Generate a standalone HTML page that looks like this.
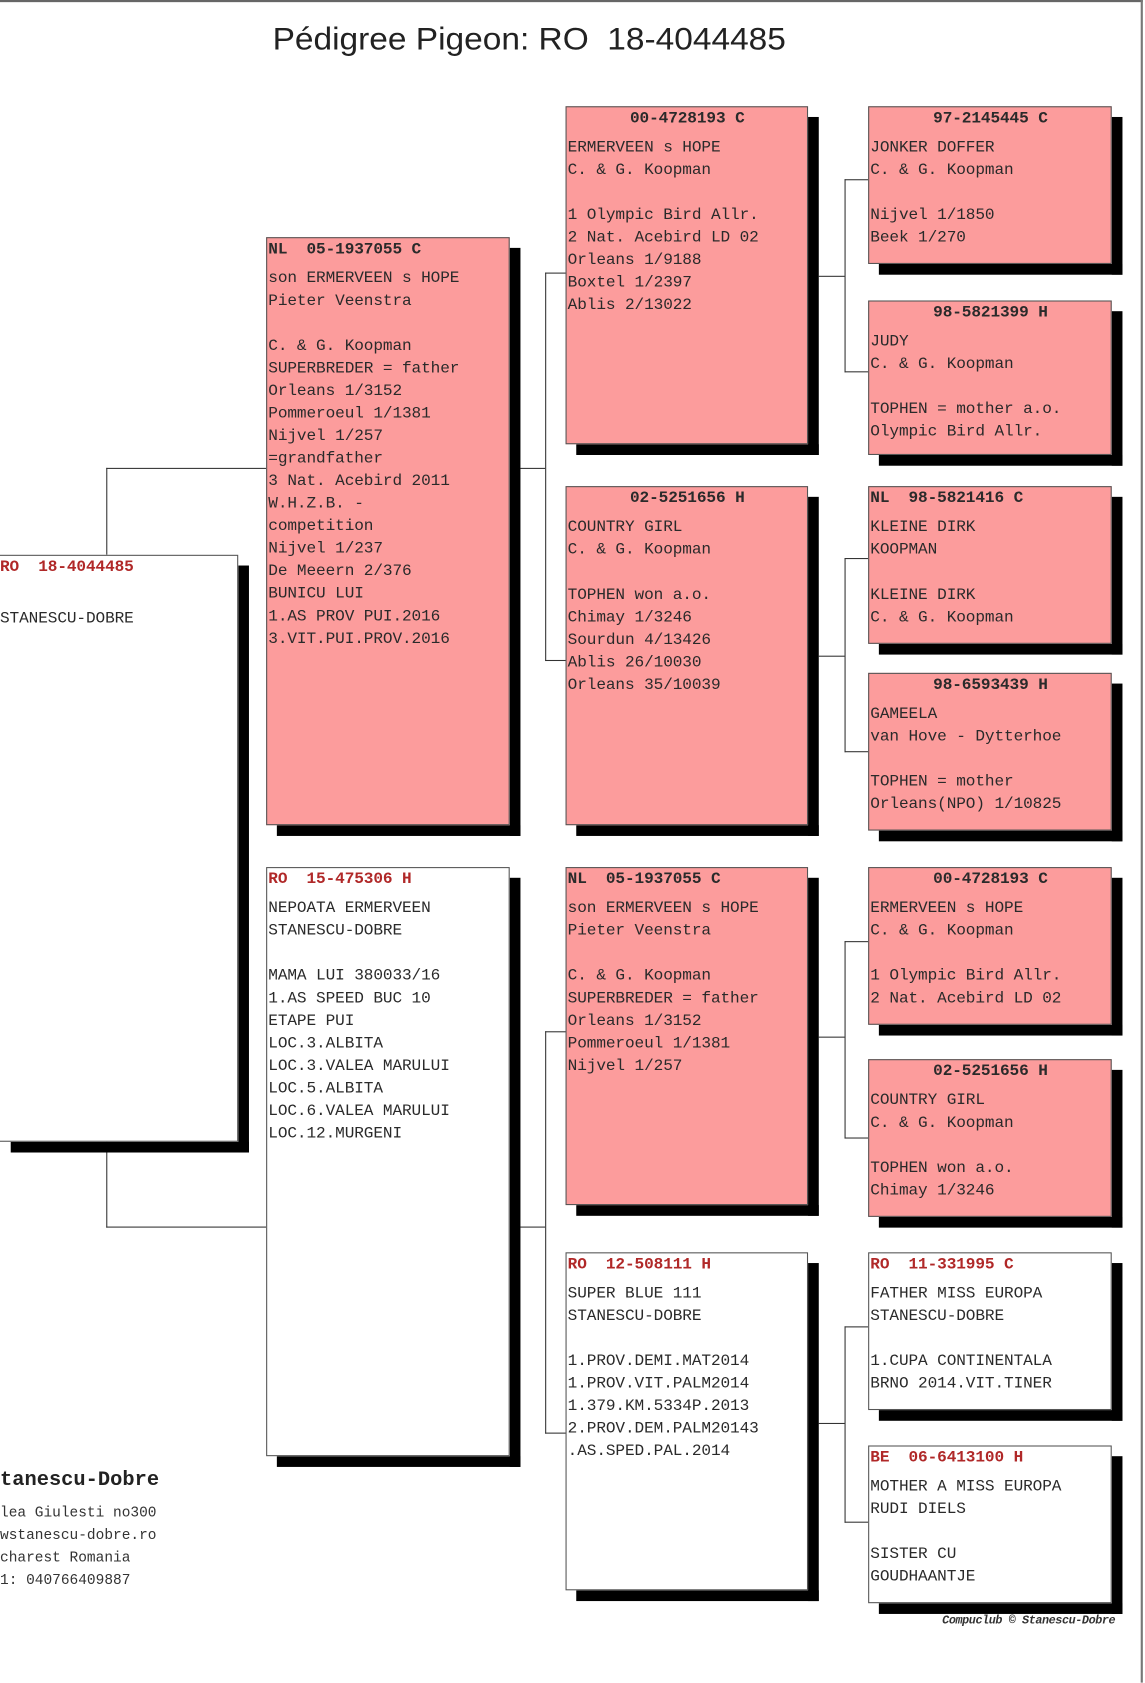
<!DOCTYPE html>
<html><head><meta charset="utf-8"><style>
html,body{margin:0;padding:0;background:#fff;}
body{width:1145px;height:1682px;overflow:hidden;position:relative;}
#w{position:absolute;left:0;top:0;width:1067px;height:1568px;transform:scale(1.0731);transform-origin:0 0;}
.b{position:absolute;border:1px solid #555;box-sizing:border-box;font-family:"Liberation Mono",monospace;font-size:15px;color:#2a2a2a;line-height:21px;white-space:pre;overflow:hidden;padding-left:1px;padding-top:1px;letter-spacing:-0.1px;}
.p{background:#fc9c9c;}
.wh{background:#fff;}
.s{position:absolute;background:#000;}
.h{font-weight:bold;margin-top:-1px;margin-bottom:6px;}
.c{text-align:center;}
.r{color:#b02828;}
.l{position:absolute;background:#333;}
</style></head><body><div id="w">
<div style="position:absolute;left:0;top:0;width:1065px;height:2px;background:#666"></div>
<div style="position:absolute;left:1063px;top:0;width:2px;height:1568px;background:#777"></div>
<div style="position:absolute;left:254px;top:21px;font-family:'Liberation Sans',sans-serif;font-size:29px;color:#222;white-space:pre;transform:scaleX(1.075);transform-origin:0 0">Pédigree Pigeon: RO  18-4044485</div>

<!-- connectors -->
<div class="l" style="left:99px;top:436px;width:1px;height:81px"></div>
<div class="l" style="left:99px;top:436px;width:149px;height:1px"></div>
<div class="l" style="left:99px;top:1064px;width:1px;height:80px"></div>
<div class="l" style="left:99px;top:1143px;width:149px;height:1px"></div>

<div class="l" style="left:485px;top:436px;width:23px;height:1px"></div>
<div class="l" style="left:508px;top:254px;width:1px;height:362px"></div>
<div class="l" style="left:508px;top:254px;width:19px;height:1px"></div>
<div class="l" style="left:508px;top:615px;width:19px;height:1px"></div>
<div class="l" style="left:485px;top:1143px;width:23px;height:1px"></div>
<div class="l" style="left:508px;top:961px;width:1px;height:375px"></div>
<div class="l" style="left:508px;top:961px;width:19px;height:1px"></div>
<div class="l" style="left:508px;top:1335px;width:19px;height:1px"></div>

<div class="l" style="left:763px;top:257px;width:24px;height:1px"></div>
<div class="l" style="left:787px;top:167px;width:1px;height:180px"></div>
<div class="l" style="left:787px;top:167px;width:22px;height:1px"></div>
<div class="l" style="left:787px;top:346px;width:22px;height:1px"></div>
<div class="l" style="left:763px;top:611px;width:24px;height:1px"></div>
<div class="l" style="left:787px;top:520px;width:1px;height:181px"></div>
<div class="l" style="left:787px;top:520px;width:22px;height:1px"></div>
<div class="l" style="left:787px;top:700px;width:22px;height:1px"></div>
<div class="l" style="left:763px;top:966px;width:24px;height:1px"></div>
<div class="l" style="left:787px;top:877px;width:1px;height:184px"></div>
<div class="l" style="left:787px;top:877px;width:22px;height:1px"></div>
<div class="l" style="left:787px;top:1060px;width:22px;height:1px"></div>
<div class="l" style="left:763px;top:1326px;width:24px;height:1px"></div>
<div class="l" style="left:787px;top:1236px;width:1px;height:183px"></div>
<div class="l" style="left:787px;top:1236px;width:22px;height:1px"></div>
<div class="l" style="left:787px;top:1418px;width:22px;height:1px"></div>

<!-- shadows -->
<div class="s" style="left:222px;top:527px;width:10px;height:547px"></div>
<div class="s" style="left:10px;top:1064px;width:222px;height:10px"></div>

<div class="s" style="left:475px;top:231px;width:10px;height:548px"></div>
<div class="s" style="left:258px;top:769px;width:227px;height:10px"></div>
<div class="s" style="left:475px;top:818px;width:10px;height:549px"></div>
<div class="s" style="left:258px;top:1357px;width:227px;height:10px"></div>

<div class="s" style="left:753px;top:109px;width:10px;height:315px"></div>
<div class="s" style="left:537px;top:414px;width:226px;height:10px"></div>
<div class="s" style="left:753px;top:463px;width:10px;height:316px"></div>
<div class="s" style="left:537px;top:769px;width:226px;height:10px"></div>
<div class="s" style="left:753px;top:818px;width:10px;height:315px"></div>
<div class="s" style="left:537px;top:1123px;width:226px;height:10px"></div>
<div class="s" style="left:753px;top:1177px;width:10px;height:315px"></div>
<div class="s" style="left:537px;top:1482px;width:226px;height:10px"></div>

<div class="s" style="left:1036px;top:109px;width:10px;height:147px"></div>
<div class="s" style="left:819px;top:246px;width:227px;height:10px"></div>
<div class="s" style="left:1036px;top:290px;width:10px;height:144px"></div>
<div class="s" style="left:819px;top:424px;width:227px;height:10px"></div>
<div class="s" style="left:1036px;top:463px;width:10px;height:147px"></div>
<div class="s" style="left:819px;top:600px;width:227px;height:10px"></div>
<div class="s" style="left:1036px;top:637px;width:10px;height:147px"></div>
<div class="s" style="left:819px;top:774px;width:227px;height:10px"></div>
<div class="s" style="left:1036px;top:818px;width:10px;height:147px"></div>
<div class="s" style="left:819px;top:955px;width:227px;height:10px"></div>
<div class="s" style="left:1036px;top:997px;width:10px;height:147px"></div>
<div class="s" style="left:819px;top:1134px;width:227px;height:10px"></div>
<div class="s" style="left:1036px;top:1177px;width:10px;height:147px"></div>
<div class="s" style="left:819px;top:1314px;width:227px;height:10px"></div>
<div class="s" style="left:1036px;top:1357px;width:10px;height:147px"></div>
<div class="s" style="left:819px;top:1494px;width:227px;height:10px"></div>

<!-- gen1 -->
<div class="b wh" style="left:-2px;top:517px;width:224px;height:547px"><div class="h r">RO  18-4044485</div>
STANESCU-DOBRE</div>

<!-- gen2 -->
<div class="b p" style="left:248px;top:221px;width:227px;height:548px"><div class="h">NL  05-1937055 C</div>son ERMERVEEN s HOPE
Pieter Veenstra

C. &amp; G. Koopman
SUPERBREDER = father
Orleans 1/3152
Pommeroeul 1/1381
Nijvel 1/257
=grandfather
3 Nat. Acebird 2011
W.H.Z.B. -
competition
Nijvel 1/237
De Meeern 2/376
BUNICU LUI
1.AS PROV PUI.2016
3.VIT.PUI.PROV.2016</div>
<div class="b wh" style="left:248px;top:808px;width:227px;height:549px"><div class="h r">RO  15-475306 H</div>NEPOATA ERMERVEEN
STANESCU-DOBRE

MAMA LUI 380033/16
1.AS SPEED BUC 10
ETAPE PUI
LOC.3.ALBITA
LOC.3.VALEA MARULUI
LOC.5.ALBITA
LOC.6.VALEA MARULUI
LOC.12.MURGENI</div>

<!-- gen3 -->
<div class="b p" style="left:527px;top:99px;width:226px;height:315px"><div class="h c">00-4728193 C</div>ERMERVEEN s HOPE
C. &amp; G. Koopman

1 Olympic Bird Allr.
2 Nat. Acebird LD 02
Orleans 1/9188
Boxtel 1/2397
Ablis 2/13022</div>
<div class="b p" style="left:527px;top:453px;width:226px;height:316px"><div class="h c">02-5251656 H</div>COUNTRY GIRL
C. &amp; G. Koopman

TOPHEN won a.o.
Chimay 1/3246
Sourdun 4/13426
Ablis 26/10030
Orleans 35/10039</div>
<div class="b p" style="left:527px;top:808px;width:226px;height:315px"><div class="h">NL  05-1937055 C</div>son ERMERVEEN s HOPE
Pieter Veenstra

C. &amp; G. Koopman
SUPERBREDER = father
Orleans 1/3152
Pommeroeul 1/1381
Nijvel 1/257</div>
<div class="b wh" style="left:527px;top:1167px;width:226px;height:315px"><div class="h r">RO  12-508111 H</div>SUPER BLUE 111
STANESCU-DOBRE

1.PROV.DEMI.MAT2014
1.PROV.VIT.PALM2014
1.379.KM.5334P.2013
2.PROV.DEM.PALM20143
.AS.SPED.PAL.2014</div>

<!-- gen4 -->
<div class="b p" style="left:809px;top:99px;width:227px;height:147px"><div class="h c">97-2145445 C</div>JONKER DOFFER
C. &amp; G. Koopman

Nijvel 1/1850
Beek 1/270</div>
<div class="b p" style="left:809px;top:280px;width:227px;height:144px"><div class="h c">98-5821399 H</div>JUDY
C. &amp; G. Koopman

TOPHEN = mother a.o.
Olympic Bird Allr.</div>
<div class="b p" style="left:809px;top:453px;width:227px;height:147px"><div class="h">NL  98-5821416 C</div>KLEINE DIRK
KOOPMAN

KLEINE DIRK
C. &amp; G. Koopman</div>
<div class="b p" style="left:809px;top:627px;width:227px;height:147px"><div class="h c">98-6593439 H</div>GAMEELA
van Hove - Dytterhoe

TOPHEN = mother
Orleans(NPO) 1/10825</div>
<div class="b p" style="left:809px;top:808px;width:227px;height:147px"><div class="h c">00-4728193 C</div>ERMERVEEN s HOPE
C. &amp; G. Koopman

1 Olympic Bird Allr.
2 Nat. Acebird LD 02</div>
<div class="b p" style="left:809px;top:987px;width:227px;height:147px"><div class="h c">02-5251656 H</div>COUNTRY GIRL
C. &amp; G. Koopman

TOPHEN won a.o.
Chimay 1/3246</div>
<div class="b wh" style="left:809px;top:1167px;width:227px;height:147px"><div class="h r">RO  11-331995 C</div>FATHER MISS EUROPA
STANESCU-DOBRE

1.CUPA CONTINENTALA
BRNO 2014.VIT.TINER</div>
<div class="b wh" style="left:809px;top:1347px;width:227px;height:147px"><div class="h r">BE  06-6413100 H</div>MOTHER A MISS EUROPA
RUDI DIELS

SISTER CU
GOUDHAANTJE</div>

<div style="position:absolute;left:0;top:1368px;font-family:'Liberation Mono',monospace;font-weight:bold;font-size:19px;color:#222">tanescu-Dobre</div>
<div style="position:absolute;left:0;top:1400px;font-family:'Liberation Mono',monospace;font-size:13.5px;line-height:21px;color:#333;white-space:pre">lea Giulesti no300
wstanescu-dobre.ro
charest Romania
1: 040766409887</div>
<div style="position:absolute;left:878px;top:1505px;font-family:'Liberation Mono',monospace;font-size:11px;font-style:italic;font-weight:bold;color:#333;letter-spacing:-0.4px">Compuclub © Stanescu-Dobre</div>
</div></body></html>
